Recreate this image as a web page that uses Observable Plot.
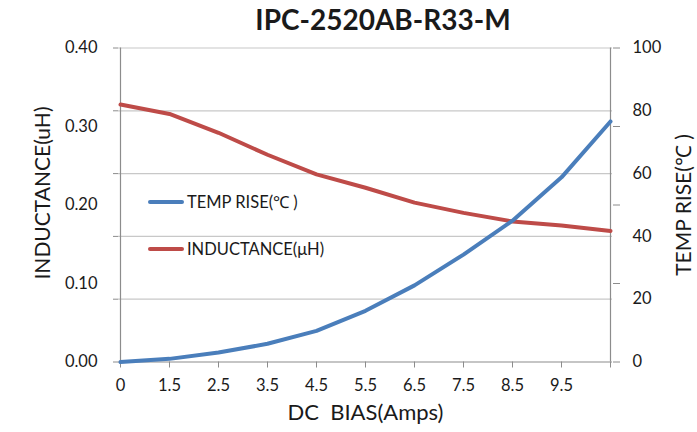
<!DOCTYPE html>
<html>
<head>
<meta charset="utf-8">
<script src="https://cdn.jsdelivr.net/npm/d3@7"></script>
<script src="https://cdn.jsdelivr.net/npm/@observablehq/plot@0.6"></script>
<style>
  html, body { margin: 0; padding: 0; background: #fff; }
  #wrap { position: relative; width: 697px; height: 432px; font-family: Lato, "Open Sans", sans-serif; color: #1a1a1a; }
  #title { position: absolute; left: 0; width: 766px; top: 2px; text-align: center; font-weight: bold; font-size: 28px; }
  .leg { position: absolute; left: 148px; font-size: 16.5px; display: flex; align-items: center; }
  .sw { width: 36px; height: 4px; border-radius: 2px; margin-right: 3px; }
  svg { position: absolute; left: 0; top: 0; }
  svg text { white-space: pre; }
</style>
</head>
<body>
<div id="wrap">
  <div id="title">IPC-2520AB-R33-M</div>
  <div class="leg" style="top:190px"><div class="sw" style="background:#4a7ebb"></div>TEMP RISE(℃ )</div>
  <div class="leg" style="top:239px"><div class="sw" style="background:#be4b48"></div>INDUCTANCE(μH)</div>
</div>
<script>
const xCats = ["0", "1.5", "2.5", "3.5", "4.5", "5.5", "6.5", "7.5", "8.5", "9.5", "10.5"];
const inductance = [0.328, 0.316, 0.292, 0.264, 0.239, 0.222, 0.203, 0.190, 0.179, 0.174, 0.167];
const tempRise = [0, 1, 3, 5.8, 9.9, 16.3, 24.4, 34.2, 45, 58.8, 76.6];
const leftTicks = [0, 0.1, 0.2, 0.3, 0.4];
const rightTicks = [0, 20, 40, 60, 80, 100];
const rightMarks = [0, 25, 50, 75, 100];

const leftMax = 0.4, rightMax = 100;
const k = leftMax / rightMax; // right -> left units

const data = xCats.map((c, i) => ({cat: c, ind: inductance[i], temp: tempRise[i]}));
const gridVals = rightTicks.map(v => v * k);
const gray = "#8c8c8c";
const textCol = "#1a1a1a";

const chart = Plot.plot({
  width: 697,
  height: 432,
  marginLeft: 118,
  marginRight: 85,
  marginTop: 47.5,
  marginBottom: 70.5,
  style: {fontFamily: "Lato, 'Open Sans', sans-serif", fontSize: "16.5px", background: "transparent"},
  x: {type: "point", domain: xCats, padding: 0},
  y: {domain: [0, leftMax]},
  marks: [
    Plot.gridY(gridVals.slice(1), {stroke: "#c8c8c8", strokeOpacity: 1, strokeWidth: 1.2}),
    Plot.ruleX([xCats[0], xCats[xCats.length - 1]], {stroke: gray, strokeWidth: 1.2}),
    Plot.ruleY([0], {stroke: gray, strokeWidth: 1.2}),
    // x axis
    Plot.axisX(xCats, {tickSize: 6, tickPadding: 11, stroke: gray, fill: textCol, label: null,
      tickFormat: (d, i) => (i < xCats.length - 1 ? d : "")}),
    // left axis tick marks (at gridlines) and labels
    Plot.axisY(gridVals, {anchor: "left", tickSize: 5, stroke: gray, tickFormat: () => "", label: null}),
    Plot.axisY(leftTicks, {anchor: "left", tickSize: 0, tickPadding: 21, fill: textCol, tickFormat: d3.format(".2f"), label: null}),
    // right axis tick marks and labels
    Plot.axisY(rightMarks.map(v => v * k), {anchor: "right", tickSize: 7, stroke: gray, tickFormat: () => "", label: null}),
    Plot.axisY(rightTicks.map(v => v * k), {anchor: "right", tickSize: 0, tickPadding: 20, fill: textCol, tickFormat: d => String(Math.round(d / k)), label: null}),
    // lines
    Plot.line(data, {x: "cat", y: "ind", stroke: "#be4b48", strokeWidth: 4}),
    Plot.line(data, {x: "cat", y: d => d.temp * k, stroke: "#4a7ebb", strokeWidth: 4}),
    // axis titles
    Plot.text(["INDUCTANCE(uH)"], {frameAnchor: "left", textAnchor: "middle", dx: -75, dy: -12, rotate: -90, fontSize: 21, fill: textCol}),
    Plot.text(["TEMP RISE(℃ )"], {frameAnchor: "right", textAnchor: "middle", dx: 72, dy: 0, rotate: -90, fontSize: 21, fill: textCol}),
    Plot.text(["DC  BIAS(Amps)"], {frameAnchor: "bottom", textAnchor: "middle", dx: 0, dy: 58, fontSize: 22, fill: textCol})
  ]
});
document.getElementById("wrap").prepend(chart);
</script>
</body>
</html>
